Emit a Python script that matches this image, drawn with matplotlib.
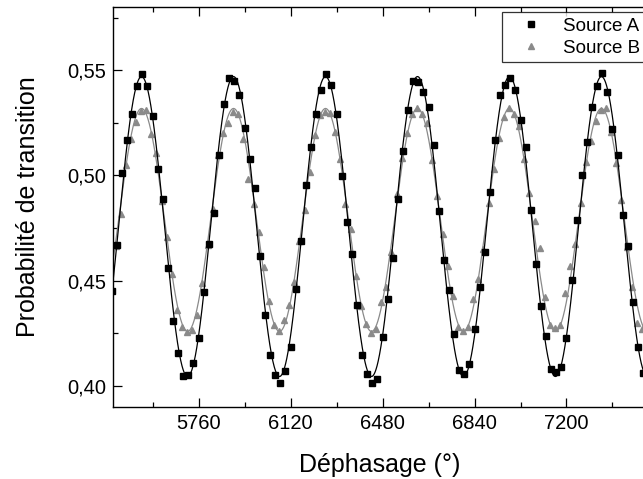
import numpy as np
import matplotlib
matplotlib.use("Agg")
import matplotlib.pyplot as plt
from matplotlib.ticker import MultipleLocator, FuncFormatter
from matplotlib.lines import Line2D

plt.rcParams['font.family'] = ['Liberation Sans', 'DejaVu Sans']

# phase steps (degrees), one point every 20 deg
xA = np.arange(5420, 7501, 20)
xB = np.arange(5415, 7496, 20)

# source A (one row per period)
yA = [0.445, 0.467, 0.501, 0.517, 0.529, 0.5425, 0.548, 0.5427, 0.528, 0.503, 0.4887, 0.456, 0.431, 0.4156, 0.4048, 0.4051, 0.4111, 0.423,
      0.4444, 0.4676, 0.482, 0.5097, 0.5338, 0.5465, 0.5448, 0.5384, 0.5227, 0.5078, 0.494, 0.4619, 0.4335, 0.4149, 0.4052, 0.4013, 0.407, 0.4186,
      0.4462, 0.4687, 0.4954, 0.5137, 0.5294, 0.5408, 0.5481, 0.5429, 0.5294, 0.4997, 0.4779, 0.4629, 0.4386, 0.4148, 0.4057, 0.4016, 0.4035, 0.4232,
      0.4413, 0.4608, 0.4889, 0.5116, 0.531, 0.5448, 0.5444, 0.5397, 0.5325, 0.5143, 0.4833, 0.46, 0.4454, 0.4248, 0.4076, 0.4057, 0.4103, 0.427,
      0.447, 0.4637, 0.492, 0.5168, 0.5384, 0.5429, 0.5465, 0.5408, 0.5265, 0.5135, 0.4837, 0.4581, 0.4381, 0.4235, 0.4079, 0.4068, 0.4092, 0.4227,
      0.4505, 0.479, 0.500, 0.5159, 0.5325, 0.5427, 0.5487, 0.5394, 0.5222, 0.5097, 0.481, 0.4667, 0.4397, 0.4187, 0.4063]

# source B
yB = [0.452, 0.4663, 0.4819, 0.5048, 0.5175, 0.5256, 0.5305, 0.531, 0.5198, 0.5105, 0.4877, 0.4708, 0.4533, 0.4362, 0.4279, 0.4256, 0.4267, 0.4338,
      0.4489, 0.4671, 0.4841, 0.5097, 0.52, 0.5249, 0.5301, 0.529, 0.5175, 0.4985, 0.4865, 0.473, 0.4565, 0.4405, 0.429, 0.4263, 0.4314, 0.4386,
      0.4493, 0.4687, 0.4838, 0.5016, 0.519, 0.5286, 0.5301, 0.5297, 0.5206, 0.508, 0.4865, 0.4746, 0.452, 0.4382, 0.4294, 0.4252, 0.427, 0.4401,
      0.447, 0.4635, 0.491, 0.5084, 0.5202, 0.5294, 0.5321, 0.5294, 0.5249, 0.5071, 0.4902, 0.4724, 0.4568, 0.4425, 0.4279, 0.4263, 0.4279, 0.4413,
      0.4508, 0.4651, 0.487, 0.5029, 0.5179, 0.5278, 0.5318, 0.5294, 0.5233, 0.5079, 0.4918, 0.4782, 0.4655, 0.4424, 0.429, 0.4275, 0.429, 0.4441,
      0.4571, 0.4676, 0.487, 0.5063, 0.5163, 0.5259, 0.531, 0.5318, 0.5206, 0.506, 0.4885, 0.466, 0.447, 0.4301, 0.427]

labels = ['Source A', 'Source B']
period = 360.0


def sine_fit(x, y):
    # least squares fit y = c0 + c1 cos + c2 sin, fixed period
    w = 2 * np.pi * np.asarray(x, float) / period
    M = np.column_stack([np.ones_like(w), np.cos(w), np.sin(w)])
    c = np.linalg.lstsq(M, np.asarray(y), rcond=None)[0]
    return c


def sine_eval(c, x):
    w = 2 * np.pi * x / period
    return c[0] + c[1] * np.cos(w) + c[2] * np.sin(w)


cA = sine_fit(xA, yA)
cB = sine_fit(xB, yB)
xx = np.linspace(5380, 7560, 2000)

fig = plt.figure(figsize=(6.43, 4.79), dpi=100)
ax = fig.add_axes([0.1753, 0.1503, 0.8297, 0.8351])

gray = '#8a8a8a'
ax.plot(xx, sine_eval(cB, xx), color=gray, lw=0.9)
ax.plot(xB, yB, ls='none', marker='^', ms=4.8, color=gray, mec=gray)
ax.plot(xx, sine_eval(cA, xx), color='black', lw=0.9)
ax.plot(xA, yA, ls='none', marker='s', ms=4.0, color='black')

ax.set_xlim(5424, 7512)
ax.set_ylim(0.39, 0.58)

ax.xaxis.set_major_locator(MultipleLocator(360))
ax.xaxis.set_minor_locator(MultipleLocator(180))
ax.yaxis.set_major_locator(MultipleLocator(0.05))
ax.yaxis.set_minor_locator(MultipleLocator(0.025))
ax.yaxis.set_major_formatter(FuncFormatter(lambda v, p: ('%.2f' % v).replace('.', ',')))

ax.tick_params(which='both', direction='in', top=True, right=False, width=0.9, labelsize=14.5)
ax.tick_params(which='major', length=6.5, pad=5)
ax.tick_params(which='minor', length=3.6)
for s in ax.spines.values():
    s.set_linewidth(1.0)

ax.set_xlabel('Déphasage (°)', fontsize=18)
ax.set_ylabel('Probabilité de transition', fontsize=18)
ax.xaxis.set_label_coords(0.5, -0.115)
ax.yaxis.set_label_coords(-0.136, 0.5)

handles = [Line2D([], [], ls='none', marker='s', ms=4.0, color='black'),
           Line2D([], [], ls='none', marker='^', ms=4.8, color=gray, mec=gray)]
leg = fig.legend(handles, labels, loc='upper left', bbox_to_anchor=(0.7802, 0.975),
                 fontsize=13.5, frameon=True, fancybox=False, borderpad=0.3,
                 handlelength=2.5, handletextpad=0.45, labelspacing=0.25,
                 borderaxespad=0)
leg.get_frame().set_edgecolor('black')
leg.get_frame().set_linewidth(0.9)

fig.savefig('out.png', dpi=100)
